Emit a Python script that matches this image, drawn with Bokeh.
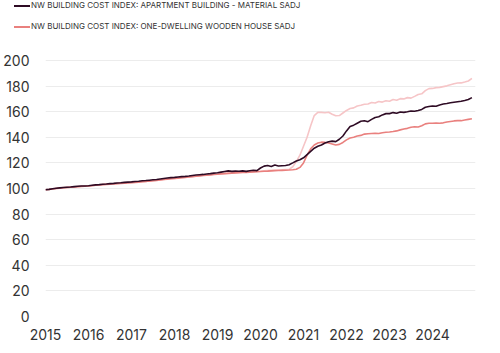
import numpy as np
from bokeh.plotting import figure
from bokeh.layouts import column
from bokeh.models import Div, FixedTicker, Range1d
from bokeh.embed import file_html
from bokeh.resources import INLINE

# Monthly values, Jan 2015 .. Dec 2024
years = [2015, 2016, 2017, 2018, 2019, 2020, 2021, 2022, 2023, 2024]
y_ticks = [0, 20, 40, 60, 80, 100, 120, 140, 160, 180, 200]

label_apartment = "NW BUILDING COST INDEX: APARTMENT BUILDING - MATERIAL SADJ"
label_wooden = "NW BUILDING COST INDEX: ONE-DWELLING WOODEN HOUSE SADJ"

apartment_material = [
    99.0, 99.3, 99.8, 100.2, 100.5, 100.8, 101.0, 101.2, 101.5, 101.7, 101.9, 102.0,
    102.2, 102.5, 102.8, 103.0, 103.3, 103.5, 103.8, 104.0, 104.3, 104.5, 104.8, 105.0,
    105.2, 105.5, 105.7, 106.0, 106.2, 106.5, 106.8, 107.0, 107.4, 107.8, 108.2, 108.5,
    108.7, 109.0, 109.3, 109.5, 109.8, 110.2, 110.5, 110.8, 111.0, 111.3, 111.6, 112.0,
    112.3, 112.8, 113.3, 113.8, 113.4, 113.6, 113.5, 113.8, 113.4, 113.9, 114.3, 114.0,
    116.0, 117.5, 118.0, 117.2, 118.3, 117.6, 117.8, 118.0, 118.6, 120.0, 121.5, 122.5,
    124.0, 126.5, 129.0, 131.5, 133.0, 134.0, 135.5, 136.5, 137.0, 136.6, 138.5, 141.0,
    145.0, 148.5, 149.5, 151.0, 152.5, 153.0, 152.2, 154.0, 155.5, 156.0, 157.5, 158.5,
    158.5, 159.3, 158.8, 159.8, 159.5, 160.0, 160.6, 160.3, 161.0, 161.8, 163.5, 164.0,
    164.5, 164.3, 165.3, 166.0, 166.4, 167.0, 167.4, 167.8, 168.2, 168.8, 169.6, 171.0,
]

wooden_house = [
    99.0, 99.2, 99.6, 100.0, 100.3, 100.6, 100.8, 101.0, 101.2, 101.4, 101.6, 101.8,
    102.0, 102.2, 102.5, 102.7, 103.0, 103.2, 103.4, 103.6, 103.8, 104.0, 104.2, 104.4,
    104.6, 104.8, 105.0, 105.3, 105.5, 105.8, 106.0, 106.3, 106.6, 107.0, 107.3, 107.6,
    107.8, 108.1, 108.4, 108.7, 109.0, 109.3, 109.6, 109.9, 110.1, 110.4, 110.6, 110.9,
    111.1, 111.4, 111.6, 111.8, 112.0, 112.2, 112.3, 112.5, 112.6, 112.8, 113.0, 113.1,
    113.3, 113.5, 113.6, 113.8, 114.0, 114.1, 114.2, 114.3, 114.4, 114.6, 115.0, 116.5,
    120.0, 126.0, 131.0, 134.0, 135.5, 136.2, 136.0, 135.5, 134.8, 134.0, 134.5, 136.0,
    138.0, 139.5, 140.0, 141.0, 141.5, 142.5, 142.8, 143.0, 143.2, 143.0, 143.6, 144.0,
    144.2, 144.5, 145.0, 145.8, 146.5, 147.0, 147.8, 148.2, 148.0, 149.0, 150.5, 151.0,
    151.0, 151.2, 151.0, 151.3, 152.0, 152.4, 152.8, 153.0, 153.0, 153.5, 154.0, 154.5,
]

third_series = [
    99.2, 99.4, 99.8, 100.1, 100.4, 100.7, 100.9, 101.1, 101.3, 101.5, 101.7, 101.9,
    102.1, 102.3, 102.6, 102.8, 103.1, 103.3, 103.5, 103.7, 103.9, 104.1, 104.3, 104.5,
    104.7, 104.9, 105.1, 105.4, 105.6, 105.9, 106.1, 106.4, 106.7, 107.1, 107.4, 107.7,
    107.9, 108.2, 108.5, 108.8, 109.1, 109.4, 109.7, 110.0, 110.3, 110.6, 110.8, 111.1,
    111.3, 111.6, 111.8, 112.0, 112.2, 112.4, 112.5, 112.7, 112.8, 113.0, 113.2, 113.3,
    113.5, 113.8, 114.0, 114.2, 114.3, 114.5, 114.6, 114.8, 115.0, 117.0, 121.0, 126.0,
    133.0, 140.0, 149.0, 157.0, 159.5, 159.5, 159.2, 159.6, 158.0, 156.8, 157.0, 159.0,
    161.0, 162.5, 163.0, 164.5, 165.0, 165.8, 166.0, 167.2, 166.8, 168.0, 167.5, 168.5,
    168.2, 169.5, 169.0, 170.2, 170.0, 171.0, 170.6, 172.0, 173.5, 174.0, 176.5, 178.0,
    178.2, 178.8, 179.0, 179.6, 180.2, 181.0, 181.8, 182.4, 182.5, 183.2, 184.0, 186.0,
]

x = [2015 + i / 12 for i in range(len(apartment_material))]

FONT = "Inter"
TXT = "#333333"
C_APT = "#2e0b24"
C_WOOD = "#e9807e"
C_THIRD = "#f6c5c7"


def legend_row(top, color, label):
    return (
        f'<div style="position:absolute;left:14px;top:{top}px;height:10px;'
        f'line-height:10px;white-space:nowrap;">'
        f'<span style="display:inline-block;width:16px;height:2px;background:{color};'
        f'vertical-align:middle;margin-right:1px;"></span>{label}</div>'
    )


legend_html = (
    f'<div style="position:relative;width:500px;height:31px;font-family:{FONT};'
    f'font-size:8px;color:{TXT};">'
    + legend_row(0, C_APT, label_apartment)
    + legend_row(21, C_WOOD, label_wooden)
    + '</div>'
)
lg = Div(text=legend_html, width=500, height=31, margin=0)

# ---- main chart: frame from 45 px; 200 at 29 px, 0 at 285 px ----
p = figure(width=500, height=322, output_backend="svg", toolbar_location=None,
           x_range=Range1d(2015, 2025), y_range=Range1d(0, 222.66),
           min_border_left=45, min_border_right=25, min_border_top=0,
           min_border_bottom=37)
p.outline_line_color = None
p.background_fill_color = "white"

p.line(x, third_series, line_color=C_THIRD, line_width=1.6)
p.line(x, wooden_house, line_color=C_WOOD, line_width=1.6)
p.line(x, apartment_material, line_color=C_APT, line_width=1.6)

p.xaxis.ticker = FixedTicker(ticks=years)
p.yaxis.ticker = FixedTicker(ticks=y_ticks)
for ax in (p.xaxis[0], p.yaxis[0]):
    ax.axis_line_color = None
    ax.major_tick_line_color = None
    ax.minor_tick_line_color = None
    ax.major_label_text_font = FONT
    ax.major_label_text_font_size = "14px"
    ax.major_label_text_color = TXT
p.yaxis.major_label_standoff = 10
p.xaxis.major_label_standoff = 6

p.xgrid.grid_line_color = None
p.ygrid.grid_line_color = "#ececec"
p.ygrid.grid_line_width = 1

layout = column(lg, p, spacing=0)
open("out.html", "w").write(file_html(layout, INLINE))
